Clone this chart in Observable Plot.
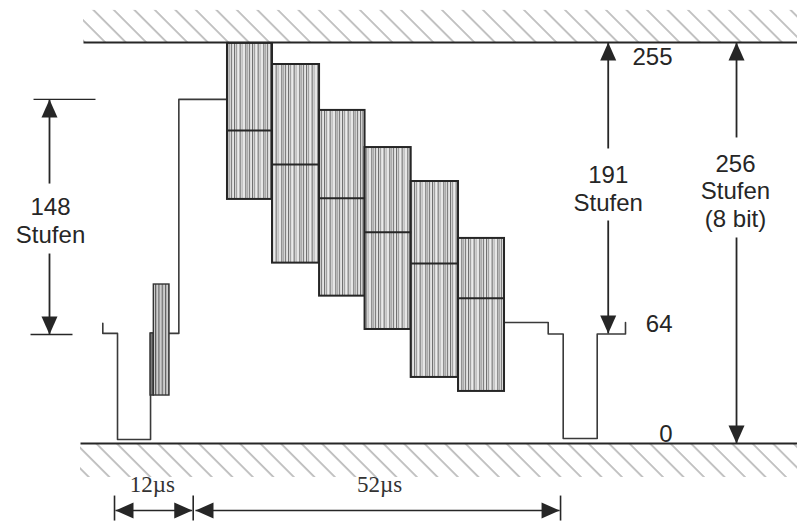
<!DOCTYPE html>
<html>
<head>
<meta charset="utf-8">
<script src="https://cdn.jsdelivr.net/npm/d3@7"></script>
<script src="https://cdn.jsdelivr.net/npm/@observablehq/plot@0.6"></script>
<style>
  html, body { margin: 0; padding: 0; background: #fff; }
  #chart svg { display: block; }
</style>
</head>
<body>
<div id="chart"></div>
<script>
// ---- Data: time in µs (x), signal level in steps (y) ----
// Horizontal blanking (left): front porch, sync, back porch, step up to white
const syncT = [-1.68, -1.68, 0.43, 0.43, 5.17, 5.17, 9.23, 9.23, 16.21];
const syncL = [76.5, 70, 70, 2.5, 2.5, 70, 70, 218.8, 218.8];
// Horizontal blanking (right)
const tailT = [55.96, 62.23, 62.23, 64.38, 64.38, 69.26, 69.26, 73.32, 73.32];
const tailL = [76.9, 76.9, 69.6, 69.6, 3.2, 3.2, 69.6, 69.6, 76.9];
// Colour burst (narrow dark part, striped part)
const burstT1 = [5.17, 5.64];
const burstT2 = [5.64, 7.89];
const burstLow = [30.5, 30.5];
const burstHigh = [70, 101.1];
// Staircase with chroma boxes
const boxT1 = [16.21, 22.67, 29.42, 35.95, 42.57, 49.36];
const boxT2 = [22.67, 29.42, 35.95, 42.57, 49.36, 55.96];
const boxTop = [254.4, 241.0, 211.8, 188.2, 166.6, 130.4];
const boxMid = [199.0, 177.4, 156.0, 134.4, 114.5, 92.4];
const boxBot = [155.2, 114.7, 93.7, 72.5, 42.0, 33.1];
// Hatched limits (top = 255, bottom = 0)
const limitX1 = [-4.45, -4.88];
const limitX2 = [98.0, 98.0];
const limitY = [255, 0];
const hatchEdge = [275.4, -21.6];
// Vertical dimension arrows (shaft start, tip)
const vArrowT = [-9.33, -9.33, 70.84, 70.84, 89.25, 89.25];
const vArrowFrom = [165.3, 120.8, 187.6, 141.8, 194.6, 131.0];
const vArrowTo = [218.8, 69.3, 255, 70.0, 255, 0];
const vArrowRot = [0, 180, 0, 180, 0, 180];
// "148 Stufen" bracket lines
const bracketX1 = [-11.62, -12.05];
const bracketX2 = [-2.73, -6.03];
const bracketY = [218.8, 69.3];
// Time dimension ticks and arrows
const timeTicks = [0, 11.29, 64.0];
const tickTop = -33.1, tickBottom = -49.0, timeArrowY = -42.6;
const hArrowFrom = [0.14, 11.62];
const hArrowTo = [11.15, 63.86];
const timeLabels = ["12µs", "52µs"];
const timeLabelT = [5.41, 38.03];
const timeLabelY = -26.1;
// Level labels
const levelLabels = ["255", "64", "0"];
const levelLabelY = [245.5, 75.7, 5.7];
const levelLabelT = 80.07;
// Step-count labels
const stepLabels = ["148\nStufen", "191\nStufen", "256\nStufen\n(8 bit)"];
const stepLabelT = [-9.18, 70.84, 89.1];
const stepLabelY = [142.1, 162.5, 160.9];

// ---- Rows built from the arrays ----
const syncRows = syncT.map((t, i) => ({t, l: syncL[i]}));
const tailRows = tailT.map((t, i) => ({t, l: tailL[i]}));
const burstRows = burstT1.map((t1, i) => ({t1, t2: burstT2[i], lo: burstLow[i], hi: burstHigh[i]}));
const boxRows = boxT1.map((t1, i) => ({t1, t2: boxT2[i], top: boxTop[i], mid: boxMid[i], bot: boxBot[i]}));
const limitRows = limitX1.map((x1, i) => ({x1, x2: limitX2[i], y: limitY[i], edge: hatchEdge[i]}));
const vArrowRows = vArrowT.map((t, i) => ({t, from: vArrowFrom[i], to: vArrowTo[i], rot: vArrowRot[i]}));
const bracketRows = bracketX1.map((x1, i) => ({x1, x2: bracketX2[i], y: bracketY[i]}));
const tickRows = timeTicks.map(t => ({t, y1: tickTop, y2: tickBottom}));
const hArrowRows = hArrowFrom.map((t1, i) => ({t1, t2: hArrowTo[i], y: timeArrowY}));
const headRows = vArrowRows.map(d => ({x: d.t, y: d.to, rot: d.rot}))
  .concat(...hArrowRows.map(d => [{x: d.t1, y: d.y, rot: 270}, {x: d.t2, y: d.y, rot: 90}]));
const levelRows = levelLabels.map((s, i) => ({s, x: levelLabelT, y: levelLabelY[i]}));
const stepRows = stepLabels.map((s, i) => ({s, x: stepLabelT[i], y: stepLabelY[i]}));
const timeRows = timeLabels.map((s, i) => ({s, x: timeLabelT[i], y: timeLabelY}));

const arrowHead = {draw(ctx) { ctx.moveTo(0, 0); ctx.lineTo(8, 18); ctx.lineTo(-8, 18); ctx.closePath(); }};
const ink = "#262626";
// sentinel colours replaced by patterns after rendering
const HATCH = "#010101", STRIPES = "#020202", BURST = "#030303";

const svg = Plot.plot({
  width: 797,
  height: 521,
  marginTop: 0, marginRight: 0, marginBottom: 0, marginLeft: 0,
  x: {domain: [-16.36, 98.0], axis: null},
  y: {domain: [-49.6, 281.7], axis: null},
  style: {background: "white", fontFamily: "'Liberation Sans', Arial, Helvetica, sans-serif", color: ink},
  marks: [
    Plot.rect(limitRows, {x1: "x1", x2: "x2", y1: "y", y2: "edge", fill: HATCH}),
    Plot.link(limitRows, {x1: "x1", x2: "x2", y1: "y", y2: "y", stroke: ink, strokeWidth: 2.2}),
    Plot.line(syncRows, {x: "t", y: "l", stroke: "#3a3a3a", strokeWidth: 1.6}),
    Plot.line(tailRows, {x: "t", y: "l", stroke: "#3a3a3a", strokeWidth: 1.6}),
    Plot.rect(burstRows.slice(0, 1), {x1: "t1", x2: "t2", y1: "lo", y2: "hi", fill: "#7a7a7a", stroke: "#333", strokeWidth: 1.4}),
    Plot.rect(burstRows.slice(1), {x1: "t1", x2: "t2", y1: "lo", y2: "hi", fill: BURST, stroke: "#333", strokeWidth: 1.4}),
    Plot.rect(boxRows, {x1: "t1", x2: "t2", y1: "bot", y2: "top", fill: STRIPES, stroke: ink, strokeWidth: 2}),
    Plot.link(boxRows, {x1: "t1", x2: "t2", y1: "mid", y2: "mid", stroke: ink, strokeWidth: 2}),
    Plot.link(bracketRows, {x1: "x1", x2: "x2", y1: "y", y2: "y", stroke: ink, strokeWidth: 1.3}),
    Plot.link(vArrowRows, {x1: "t", x2: "t", y1: "from", y2: "to", stroke: ink, strokeWidth: 1.8}),
    Plot.link(tickRows, {x1: "t", x2: "t", y1: "y1", y2: "y2", stroke: ink, strokeWidth: 1.6}),
    Plot.link(hArrowRows, {x1: "t1", x2: "t2", y1: "y", y2: "y", stroke: ink, strokeWidth: 1.4}),
    Plot.dot(headRows, {x: "x", y: "y", rotate: "rot", symbol: arrowHead, fill: ink, stroke: "none"}),
    Plot.text(levelRows, {x: "x", y: "y", text: "s", textAnchor: "end", fontSize: 24, fill: ink}),
    Plot.text(stepRows, {x: "x", y: "y", text: "s", fontSize: 24, lineHeight: 1.15, fill: ink}),
    Plot.text(timeRows, {x: "x", y: "y", text: "s", fontSize: 23, fontFamily: "'Liberation Serif', 'DejaVu Serif', serif", fill: "#333"})
  ]
});

// ---- Patterns ----
const defs = d3.select(svg).insert("defs", ":first-child");
const hatch = defs.append("pattern").attr("id", "hatch").attr("patternUnits", "userSpaceOnUse")
  .attr("width", 14.5).attr("height", 14.5).attr("patternTransform", "rotate(-45)");
hatch.append("line").attr("x1", 1).attr("x2", 1).attr("y1", -1).attr("y2", 16)
  .attr("stroke", "#7a7a7a").attr("stroke-width", 0.9);

const stripes = defs.append("pattern").attr("id", "stripes").attr("patternUnits", "userSpaceOnUse")
  .attr("width", 18).attr("height", 10);
stripes.append("rect").attr("width", 18).attr("height", 10).attr("fill", "#d9d9d9");
[[0.5, "#555"], [2.4, "#8a8a8a"], [4.3, "#f5f5f5"], [6.2, "#5a5a5a"], [8.2, "#b0b0b0"], [10.0, "#fafafa"], [11.8, "#555"], [13.6, "#9a9a9a"], [15.6, "#5e5e5e"], [17.2, "#eeeeee"]]
  .forEach(([x, c]) => stripes.append("line").attr("x1", x).attr("x2", x).attr("y1", 0).attr("y2", 10)
    .attr("stroke", c).attr("stroke-width", 0.8));

const burst = defs.append("pattern").attr("id", "burst").attr("patternUnits", "userSpaceOnUse")
  .attr("width", 3.3).attr("height", 10);
burst.append("rect").attr("width", 3.3).attr("height", 10).attr("fill", "#cdcdcd");
burst.append("line").attr("x1", 0.6).attr("x2", 0.6).attr("y1", 0).attr("y2", 10)
  .attr("stroke", "#444").attr("stroke-width", 0.9);

const swap = {[HATCH]: "url(#hatch)", [STRIPES]: "url(#stripes)", [BURST]: "url(#burst)"};
d3.select(svg).selectAll("[fill]").each(function () {
  const f = (this.getAttribute("fill") || "").toLowerCase();
  if (swap[f]) this.setAttribute("fill", swap[f]);
});

document.getElementById("chart").appendChild(svg);
</script>
</body>
</html>
